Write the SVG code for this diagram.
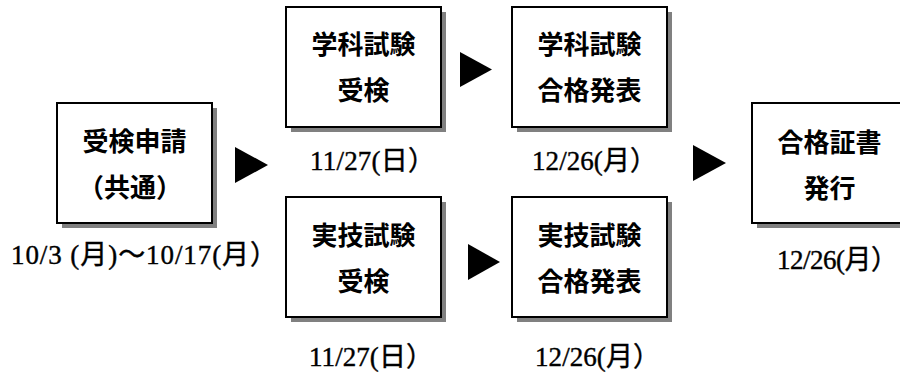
<svg xmlns="http://www.w3.org/2000/svg" width="900" height="374" viewBox="0 0 900 374">
<style>
.shadow{fill:#808080;}
.box{fill:#ffffff;stroke:#000000;stroke-width:2;}
.lbl{font-family:"Noto Sans CJK JP","Noto Sans CJK SC",sans-serif;font-weight:bold;font-size:26px;fill:#000;text-anchor:middle;}
.date{font-family:"Liberation Serif","Noto Sans CJK JP",serif;font-size:27px;fill:#000;stroke:#000;stroke-width:0.4;text-anchor:start;}
.arrow{fill:#000000;}
</style>
<rect width="900" height="374" fill="#ffffff"/>
<g id="connectors">
<polygon class="arrow" points="235,147 235,183 268,165"/>
<polygon class="arrow" points="460,52 460,87 492,69.5"/>
<polygon class="arrow" points="693,145 693,181 726,163"/>
<polygon class="arrow" points="468,244 468,280 500,262"/>
</g>
<g id="node-application">
<rect class="shadow" x="62" y="108" width="155" height="120"/>
<rect class="box" x="57" y="103" width="155" height="120"/>
<text class="lbl" x="134.5" y="151">受検申請</text>
<text class="lbl" x="130" y="197">（共通）</text>
<text class="date" x="11" y="264" textLength="266" lengthAdjust="spacing">10/3 (月)～10/17(月）</text>
</g>
<g id="node-written-exam">
<rect class="shadow" x="291" y="12" width="155" height="120"/>
<rect class="box" x="286" y="7" width="155" height="120"/>
<text class="lbl" x="363.5" y="54">学科試験</text>
<text class="lbl" x="363.5" y="100">受検</text>
<text class="date" x="310" y="170" textLength="125" lengthAdjust="spacing">11/27(日）</text>
</g>
<g id="node-written-result">
<rect class="shadow" x="517" y="12" width="155" height="120"/>
<rect class="box" x="512" y="7" width="155" height="120"/>
<text class="lbl" x="589.5" y="54">学科試験</text>
<text class="lbl" x="589.5" y="100">合格発表</text>
<text class="date" x="532" y="170" textLength="125" lengthAdjust="spacing">12/26(月）</text>
</g>
<g id="node-practical-exam">
<rect class="shadow" x="291" y="202" width="155" height="120"/>
<rect class="box" x="286" y="197" width="155" height="120"/>
<text class="lbl" x="363.5" y="245">実技試験</text>
<text class="lbl" x="363.5" y="291">受検</text>
<text class="date" x="309" y="366" textLength="124" lengthAdjust="spacing">11/27(日）</text>
</g>
<g id="node-practical-result">
<rect class="shadow" x="517" y="202" width="155" height="120"/>
<rect class="box" x="512" y="197" width="155" height="120"/>
<text class="lbl" x="589.5" y="245">実技試験</text>
<text class="lbl" x="589.5" y="291">合格発表</text>
<text class="date" x="535" y="366" textLength="125" lengthAdjust="spacing">12/26(月）</text>
</g>
<g id="node-certificate">
<rect class="shadow" x="757" y="108" width="155" height="120"/>
<rect class="box" x="752" y="103" width="155" height="120"/>
<text class="lbl" x="829.5" y="152">合格証書</text>
<text class="lbl" x="829.5" y="198">発行</text>
<text class="date" x="777" y="269" textLength="121" lengthAdjust="spacing">12/26(月）</text>
</g>
</svg>
